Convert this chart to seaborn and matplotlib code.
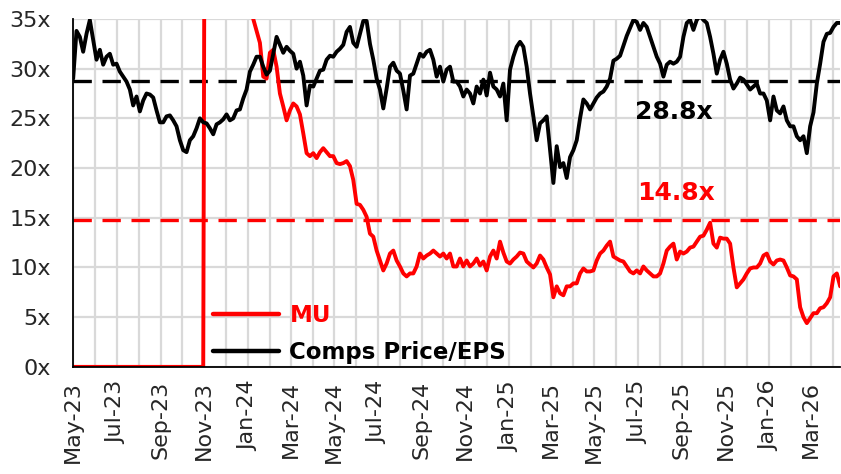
import numpy as np
import pandas as pd
import seaborn as sns
import matplotlib.pyplot as plt
import matplotlib.dates as mdates
from matplotlib.ticker import FuncFormatter, MultipleLocator

# Price/EPS multiples (about every 4.7 days, May-23 .. Apr-26)
START, END = '2023-05-01', '2026-04-11'

COMPS = [
    29.0, 33.8, 33.2, 31.7, 33.5, 34.9, 32.9, 30.9, 31.9, 30.4,
    31.2, 31.5, 30.4, 30.5, 29.7, 29.2, 28.7, 27.9, 26.3, 27.2,
    25.7, 26.8, 27.5, 27.4, 27.1, 25.8, 24.6, 24.6, 25.2, 25.3,
    24.8, 24.2, 22.8, 21.8, 21.6, 22.8, 23.2, 24.0, 25.0, 24.6,
    24.5, 24.0, 23.4, 24.4, 24.6, 24.9, 25.4, 24.8, 25.0, 25.8,
    25.9, 27.0, 27.9, 29.7, 30.4, 31.2, 31.2, 30.2, 29.4, 29.8,
    31.5, 33.2, 32.4, 31.6, 32.2, 31.8, 31.5, 30.0, 30.7, 29.3,
    26.3, 28.3, 28.2, 29.0, 29.8, 29.9, 30.9, 31.3, 31.2, 31.7,
    32.0, 32.4, 33.7, 34.2, 32.6, 32.2, 33.5, 34.8, 34.8, 32.5,
    30.9, 29.0, 27.9, 26.0, 28.0, 30.2, 30.6, 29.8, 29.5, 27.8,
    25.9, 29.3, 29.5, 30.5, 31.5, 31.2, 31.7, 31.9, 30.9, 29.2,
    30.2, 28.7, 29.9, 30.2, 28.7, 28.7, 28.2, 27.2, 27.9, 27.5,
    26.5, 28.2, 27.5, 28.9, 27.3, 29.6, 28.2, 27.9, 27.2, 28.5,
    24.8, 29.9, 31.2, 32.2, 32.7, 32.2, 30.2, 27.5, 25.2, 22.8,
    24.5, 24.8, 25.2, 21.8, 18.5, 22.2, 20.1, 20.5, 19.0, 21.1,
    21.8, 22.8, 25.0, 26.9, 26.5, 25.9, 26.5, 27.1, 27.5, 27.7,
    28.2, 29.0, 30.8, 31.0, 31.3, 32.3, 33.3, 34.1, 34.9, 34.7,
    33.9, 34.6, 34.2, 33.2, 32.2, 31.2, 30.5, 29.2, 30.4, 30.7,
    30.5, 30.7, 31.2, 33.2, 34.6, 34.9, 33.9, 34.9, 35.3, 34.9,
    34.6, 33.2, 31.5, 29.5, 30.9, 31.7, 30.5, 28.9, 28.0, 28.5,
    29.1, 28.9, 28.4, 27.9, 28.2, 28.5, 27.5, 27.5, 26.8, 24.8,
    27.2, 25.8, 25.5, 26.2, 24.8, 24.2, 24.2, 23.2, 22.8, 23.2,
    21.5, 24.2, 25.6, 28.5, 30.5, 32.7, 33.5, 33.6, 34.2, 34.6,
    34.6,
]

# MU: zero before Nov-23, off the top of the chart until Jan-24
MU = [
    0.0, 0.0, 0.0, 0.0, 0.0, 0.0, 0.0, 0.0, 0.0, 0.0,
    0.0, 0.0, 0.0, 0.0, 0.0, 0.0, 0.0, 0.0, 0.0, 0.0,
    0.0, 0.0, 0.0, 0.0, 0.0, 0.0, 0.0, 0.0, 0.0, 0.0,
    0.0, 0.0, 0.0, 0.0, 0.0, 0.0, 0.0, 0.0, 0.0, 0.0,
    120.0, 120.0, 120.0, 120.0, 120.0, 120.0, 120.0, 120.0, 120.0, 120.0,
    120.0, 120.0, 120.0, 120.0, 35.0, 33.8, 32.6, 29.2, 29.0, 31.6,
    31.9, 30.2, 27.5, 26.2, 24.8, 25.8, 26.5, 26.2, 25.4, 23.5,
    21.5, 21.2, 21.5, 21.0, 21.6, 22.0, 21.6, 21.2, 21.2, 20.5,
    20.4, 20.5, 20.7, 20.2, 18.8, 16.4, 16.3, 15.8, 15.1, 13.4,
    13.1, 11.7, 10.7, 9.7, 10.4, 11.4, 11.7, 10.7, 10.1, 9.4,
    9.1, 9.4, 9.4, 10.1, 11.4, 10.9, 11.2, 11.4, 11.7, 11.4,
    11.1, 11.4, 10.9, 11.4, 10.1, 10.1, 10.9, 10.1, 10.7, 10.1,
    10.4, 10.9, 10.2, 10.6, 9.7, 11.1, 11.7, 10.9, 12.6, 11.5,
    10.6, 10.4, 10.8, 11.1, 11.5, 11.4, 10.6, 10.3, 10.0, 10.4,
    11.2, 10.8, 10.0, 9.3, 7.0, 8.1, 7.4, 7.2, 8.1, 8.1,
    8.4, 8.4, 9.4, 9.9, 9.6, 9.6, 9.7, 10.7, 11.4, 11.7,
    12.2, 12.6, 11.1, 10.9, 10.7, 10.6, 10.1, 9.6, 9.4, 9.7,
    9.4, 10.1, 9.7, 9.4, 9.1, 9.1, 9.4, 10.4, 11.7, 12.1,
    12.4, 10.8, 11.6, 11.4, 11.6, 12.0, 12.1, 12.6, 13.1, 13.2,
    13.8, 14.5, 12.4, 12.0, 13.0, 12.9, 12.9, 12.4, 10.0, 8.0,
    8.4, 8.8, 9.4, 9.9, 10.0, 10.0, 10.4, 11.2, 11.4, 10.6,
    10.3, 10.7, 10.8, 10.7, 10.0, 9.2, 9.1, 8.8, 6.0, 5.0,
    4.4, 4.9, 5.4, 5.4, 5.9, 6.0, 6.4, 7.0, 9.1, 9.4,
    8.1,
]

SERIES = ['MU', 'Comps Price/EPS']
COLORS = {'MU': '#ff0000', 'Comps Price/EPS': '#000000'}
MU_AVG = 14.8
COMPS_AVG = 28.8

dates = pd.date_range(START, END, periods=len(COMPS))
df = pd.concat([
    pd.DataFrame({'date': dates, 'value': MU, 'series': 'MU'}),
    pd.DataFrame({'date': dates, 'value': COMPS, 'series': 'Comps Price/EPS'}),
])

sns.set_style('white')
plt.rcParams['font.family'] = ['DejaVu Sans']

fig, ax = plt.subplots(figsize=(8.41, 4.74), dpi=100)
fig.subplots_adjust(left=0.087, right=0.999, top=0.96, bottom=0.226)

sns.lineplot(
    data=df, x='date', y='value', hue='series',
    hue_order=SERIES, palette=COLORS, linewidth=2.8, ax=ax
)

ax.axhline(COMPS_AVG, color='black', lw=2.4, ls=(0, (5.5, 3.2)), zorder=1.5)
ax.axhline(MU_AVG, color='#ff0000', lw=2.4, ls=(0, (5.5, 3.2)), zorder=1.5)
ax.text(pd.Timestamp('2025-08-20'), COMPS_AVG - 3.2, f'{COMPS_AVG}x',
        ha='center', va='center', fontsize=18, fontweight='bold', color='black')
ax.text(pd.Timestamp('2025-08-24'), MU_AVG + 2.7, f'{MU_AVG}x',
        ha='center', va='center', fontsize=18, fontweight='bold', color='#ff0000')

ax.set_xlim(pd.Timestamp(START), pd.Timestamp(END))
ax.set_ylim(0, 35)
ax.yaxis.set_major_locator(MultipleLocator(5))
ax.yaxis.set_major_formatter(FuncFormatter(lambda v, p: f'{v:.0f}x'))
ax.xaxis.set_major_locator(mdates.MonthLocator(bymonth=[1, 3, 5, 7, 9, 11]))
ax.xaxis.set_minor_locator(mdates.MonthLocator())
ax.xaxis.set_major_formatter(mdates.DateFormatter('%b-%y'))
ax.tick_params(axis='both', which='both', length=0, labelsize=16)
ax.tick_params(axis='x', rotation=90, pad=10)
ax.tick_params(axis='y', pad=16)

ax.grid(True, axis='x', which='both', color='#d9d9d9', lw=1.6)
ax.grid(True, axis='y', which='major', color='#d9d9d9', lw=1.6)
ax.set_axisbelow(True)
for side in ['top', 'right']:
    ax.spines[side].set_visible(False)
for side in ['left', 'bottom']:
    ax.spines[side].set_color('black')
    ax.spines[side].set_linewidth(1.3)
ax.set_xlabel('')
ax.set_ylabel('')

leg = ax.legend(
    loc='lower left', bbox_to_anchor=(0.155, -0.05), frameon=False,
    handlelength=2.9, handletextpad=0.45, labelspacing=0.58,
    prop={'size': 16.5, 'weight': 'bold'}
)
for txt in leg.get_texts():
    txt.set_color(COLORS[txt.get_text()])
for line in leg.get_lines():
    line.set_linewidth(3.2)

fig.savefig('out.png', dpi=100)
